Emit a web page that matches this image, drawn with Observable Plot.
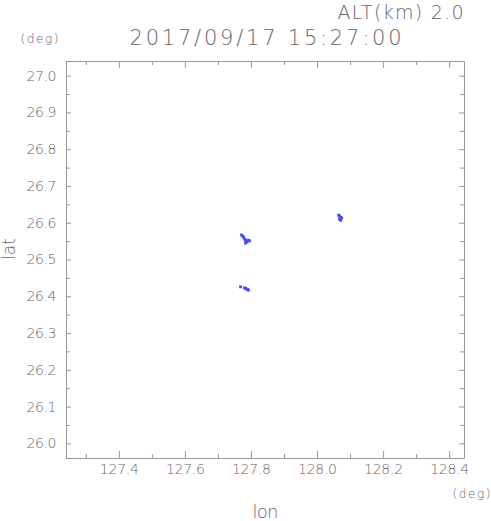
<!DOCTYPE html>
<html>
<head>
<meta charset="utf-8">
<script src="https://cdn.jsdelivr.net/npm/d3@7"></script>
<script src="https://cdn.jsdelivr.net/npm/@observablehq/plot@0.6"></script>
<style>
  html, body { margin: 0; padding: 0; background: #fff; }
</style>
</head>
<body>
<div id="chart"></div>
<script>
// Data
const lon = [127.770, 127.773, 127.776, 127.779, 127.782, 127.788, 127.791, 127.785, 127.794, 127.782,
             128.064, 128.067, 128.070, 128.067, 128.070, 128.073,
             127.767, 127.779, 127.782, 127.785, 127.788, 127.791];
const lat = [26.568, 26.565, 26.5625, 26.557, 26.554, 26.552, 26.554, 26.549, 26.552, 26.546,
             26.622, 26.619, 26.616, 26.611, 26.608, 26.614,
             26.427, 26.424, 26.423, 26.421, 26.420, 26.418];
const xMajor = [127.4, 127.6, 127.8, 128.0, 128.2, 128.4];
const xMinor = [127.3, 127.5, 127.7, 127.9, 128.1, 128.3];
const yMajor = [26.0, 26.1, 26.2, 26.3, 26.4, 26.5, 26.6, 26.7, 26.8, 26.9, 27.0];
const yMinor = [26.05, 26.15, 26.25, 26.35, 26.45, 26.55, 26.65, 26.75, 26.85, 26.95];
const title = "2017/09/17 15:27:00";
const altLabel = "ALT(km) 2.0";
const xLabel = "lon";
const yLabel = "lat";
const unit = "(deg)";

const points = lon.map((x, i) => ({lon: x, lat: lat[i]}));

const W = 491, Hh = 521;
const mL = 66, mR = 27, mT = 61, mB = 63;
const fw = W - mL - mR, fh = Hh - mT - mB;
const txt = "#666";
const font = "DejaVu Sans";
const fwt = 200;

const plot = Plot.plot({
  width: W,
  height: Hh,
  marginLeft: mL, marginRight: mR, marginTop: mT, marginBottom: mB,
  style: {fontFamily: font, background: "#fff"},
  x: {domain: [127.24, 128.445], axis: null},
  y: {domain: [25.96, 27.04], axis: null},
  marks: [
    Plot.frame({stroke: "#999"}),
    // bottom / top ticks
    Plot.ruleX(xMajor, {x: d => d, insetTop: fh - 7, stroke: "#999"}),
    Plot.ruleX(xMinor, {x: d => d, insetTop: fh - 4, stroke: "#999"}),
    Plot.ruleX(xMajor, {x: d => d, insetBottom: fh - 7, stroke: "#999"}),
    Plot.ruleX(xMinor, {x: d => d, insetBottom: fh - 4, stroke: "#999"}),
    // left / right ticks
    Plot.ruleY(yMajor, {y: d => d, insetRight: fw - 5, stroke: "#999"}),
    Plot.ruleY(yMinor, {y: d => d, insetRight: fw - 4, stroke: "#999"}),
    Plot.ruleY(yMajor, {y: d => d, insetLeft: fw - 5, stroke: "#999"}),
    Plot.ruleY(yMinor, {y: d => d, insetLeft: fw - 4, stroke: "#999"}),
    // tick labels
    Plot.text(xMajor, {x: d => d, frameAnchor: "bottom", lineAnchor: "middle", dy: 11, text: d => d.toFixed(1), fontSize: 14, fontWeight: fwt, fill: txt}),
    Plot.text(yMajor, {y: d => d, frameAnchor: "left", lineAnchor: "middle", dx: -10, textAnchor: "end", text: d => d.toFixed(1), fontSize: 14, fontWeight: fwt, fill: txt}),
    // data
    Plot.dot(points, {x: "lon", y: "lat", symbol: "square", r: 1.6, fill: "#4a4aff", stroke: null}),
    // titles and labels
    Plot.text([altLabel], {text: d => d, frameAnchor: "top-right", lineAnchor: "middle", textAnchor: "end", dx: -1, dy: -49, fontSize: 19, fontWeight: fwt, fill: txt}),
    Plot.text([title], {text: d => d, frameAnchor: "top", lineAnchor: "middle", dy: -23, fontSize: 21, fontWeight: fwt, fill: txt}),
    Plot.text([unit], {text: d => d, frameAnchor: "top-left", lineAnchor: "middle", textAnchor: "start", dx: -46, dy: -22, fontSize: 12, fontWeight: fwt, fill: txt}),
    Plot.text([yLabel], {text: d => d, frameAnchor: "left", lineAnchor: "middle", dx: -57, rotate: -90, fontSize: 17, fontWeight: fwt, fill: txt}),
    Plot.text([xLabel], {text: d => d, frameAnchor: "bottom", lineAnchor: "middle", dy: 54, fontSize: 18, fontWeight: fwt, fill: txt}),
    Plot.text([unit], {text: d => d, frameAnchor: "bottom-right", lineAnchor: "middle", textAnchor: "end", dx: 26, dy: 36, fontSize: 12, fontWeight: fwt, fill: txt})
  ]
});
document.getElementById("chart").appendChild(plot);

// Stretch the glyph spacing to the widths of the reference's wide stroke font
function targetWidth(s) {
  if (s === title) return 272;
  if (s === altLabel) return 126;
  if (s === unit) return 38;
  if (s === xLabel) return 26;
  if (/^12[78]\.\d$/.test(s)) return 39;
  if (/^2[67]\.\d$/.test(s)) return 30;
  return null;
}
plot.querySelectorAll("text").forEach(t => {
  const w = targetWidth(t.textContent.trim());
  if (w != null) {
    t.setAttribute("textLength", w);
    t.setAttribute("lengthAdjust", "spacing");
  }
});
</script>
</body>
</html>
